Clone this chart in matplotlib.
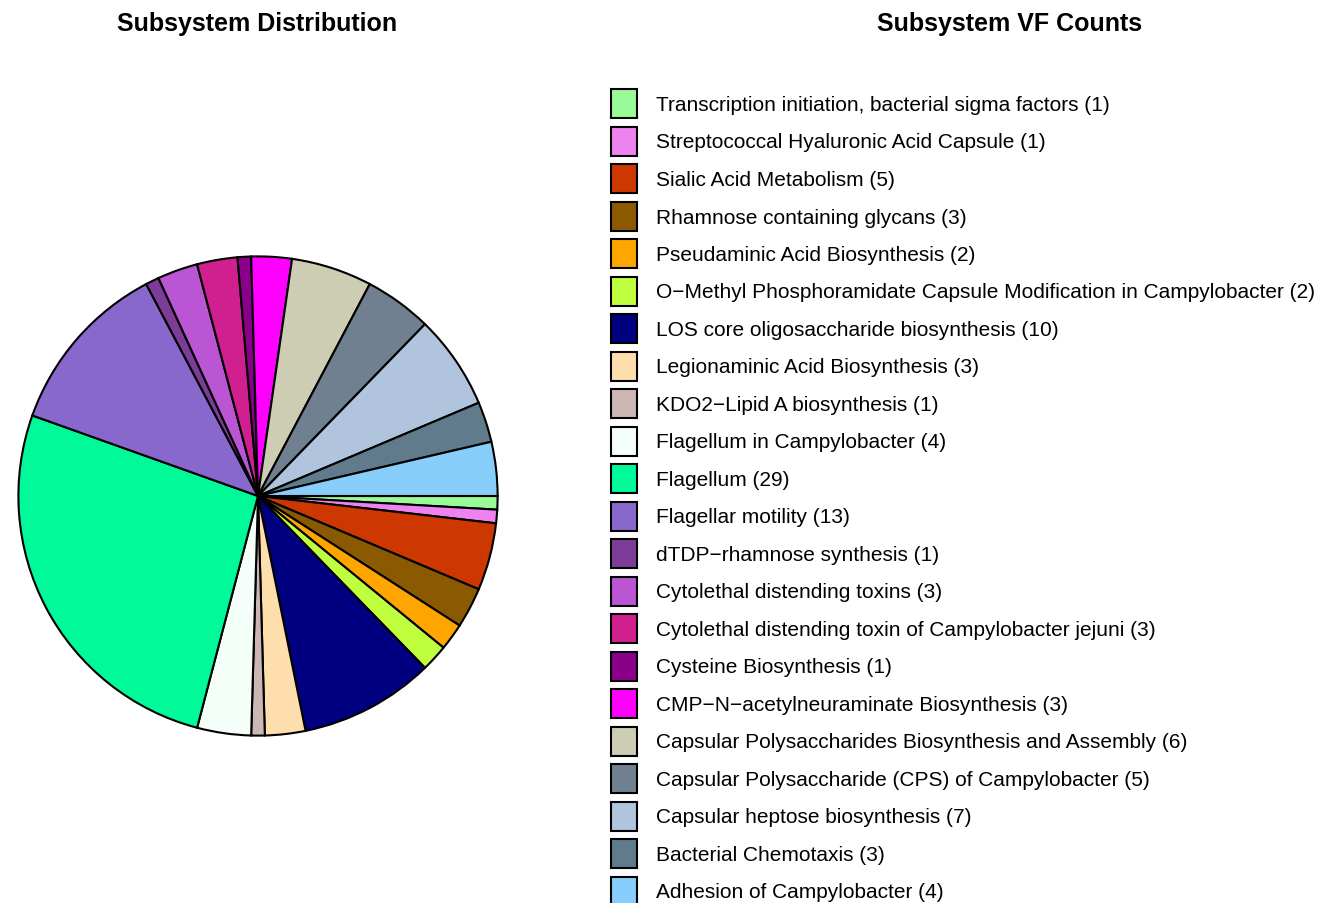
import matplotlib
matplotlib.use("Agg")
import matplotlib.pyplot as plt
from matplotlib.patches import Rectangle

plt.rcParams['font.family'] = ['Liberation Sans', 'DejaVu Sans']

# legend / pie order (clockwise from 3 o'clock)
labels = [
    "Transcription initiation, bacterial sigma factors",
    "Streptococcal Hyaluronic Acid Capsule",
    "Sialic Acid Metabolism",
    "Rhamnose containing glycans",
    "Pseudaminic Acid Biosynthesis",
    "O\u2212Methyl Phosphoramidate Capsule Modification in Campylobacter",
    "LOS core oligosaccharide biosynthesis",
    "Legionaminic Acid Biosynthesis",
    "KDO2\u2212Lipid A biosynthesis",
    "Flagellum in Campylobacter",
    "Flagellum",
    "Flagellar motility",
    "dTDP\u2212rhamnose synthesis",
    "Cytolethal distending toxins",
    "Cytolethal distending toxin of Campylobacter jejuni",
    "Cysteine Biosynthesis",
    "CMP\u2212N\u2212acetylneuraminate Biosynthesis",
    "Capsular Polysaccharides Biosynthesis and Assembly",
    "Capsular Polysaccharide (CPS) of Campylobacter",
    "Capsular heptose biosynthesis",
    "Bacterial Chemotaxis",
    "Adhesion of Campylobacter",
]
counts = [1, 1, 5, 3, 2, 2, 10, 3, 1, 4, 29, 13, 1, 3, 3, 1, 3, 6, 5, 7, 3, 4]
colors = [
    "#98FB98", "#EE82EE", "#CD3700", "#8B5A00", "#FFA500", "#C0FF3E",
    "#000080", "#FFDEAD", "#CDB7B5", "#F5FFFA", "#00FA9A", "#8968CD",
    "#7D3C98", "#BA55D3", "#D02090", "#8B008B", "#FF00FF", "#CDCDB4",
    "#708090", "#B0C4DE", "#607B8B", "#87CEFA",
]

W, H = 1336, 904
fig = plt.figure(figsize=(W / 100, H / 100), dpi=100)

# pie
cx, cy, r = 258, 497, 242
ax = fig.add_axes([(cx - r) / W, (H - cy - r) / H, 2 * r / W, 2 * r / H])
ax.pie(counts, colors=colors, startangle=0, counterclock=False,
       wedgeprops=dict(edgecolor="black", linewidth=1.5))
ax.set_xlim(-1.01, 1.01)
ax.set_ylim(-1.01, 1.01)
ax.set_aspect("equal")
ax.axis("off")

# legend drawn in pixel coords
lg = fig.add_axes([0, 0, 1, 1])
lg.set_xlim(0, W)
lg.set_ylim(H, 0)
lg.axis("off")
y0, dy = 104.5, 37.5
for i, (lab, n, c) in enumerate(zip(labels, counts, colors)):
    y = y0 + i * dy
    lg.add_patch(Rectangle((611, y - 14.5), 26, 29, facecolor=c,
                           edgecolor="black", linewidth=1.5))
    lg.text(656, y + 1, f"{lab} ({n})", fontsize=15, va="center", ha="left")

fig.text(257 / W, 1 - 24 / H, "Subsystem Distribution", fontsize=18,
         fontweight="bold", ha="center", va="center")
fig.text(1010 / W, 1 - 24 / H, "Subsystem VF Counts", fontsize=18,
         fontweight="bold", ha="center", va="center")

fig.savefig("out.png", dpi=100)
